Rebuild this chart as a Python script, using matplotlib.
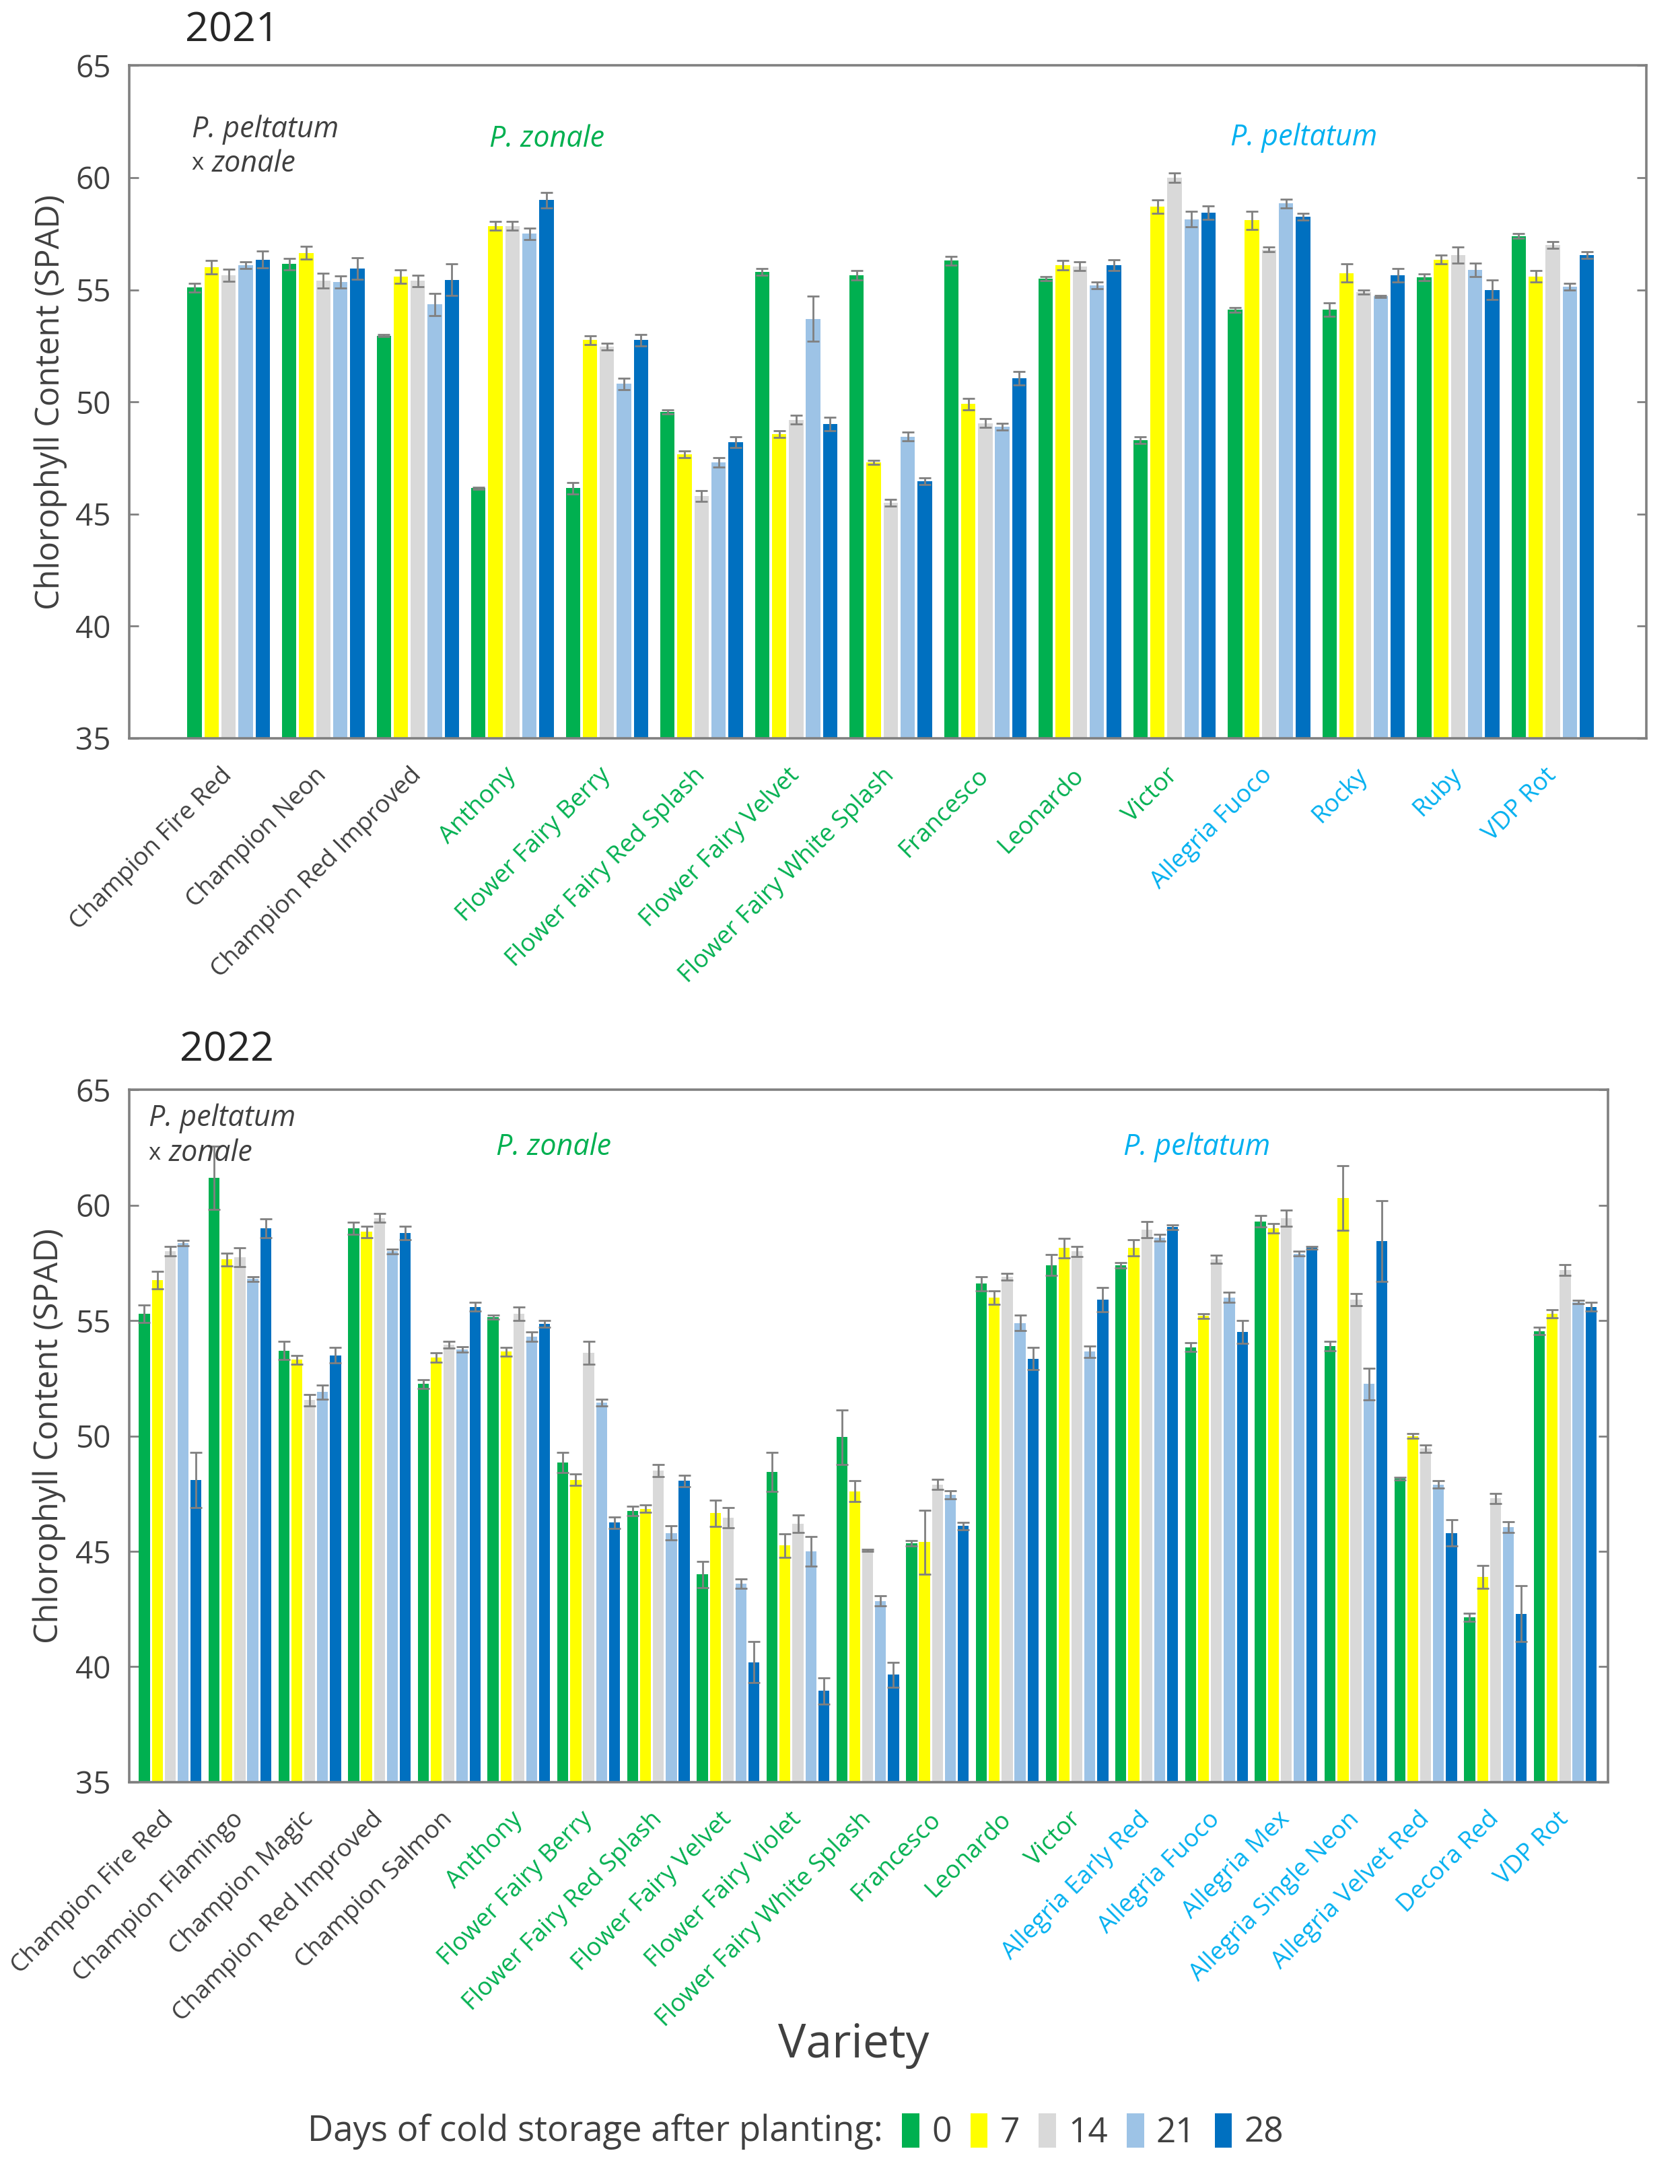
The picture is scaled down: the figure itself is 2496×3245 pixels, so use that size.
"""Chlorophyll content (SPAD) per pelargonium variety after cold storage, 2021 and 2022."""

import matplotlib
matplotlib.use("Agg")
import matplotlib.pyplot as plt
import numpy as np
from matplotlib.patches import Patch

plt.rcParams["font.family"] = ["Open Sans", "DejaVu Sans"]

DAYS = ["0", "7", "14", "21", "28"]
DAY_COLORS = ["#00B050", "#FFFF00", "#D9D9D9", "#9DC3E6", "#0070C0"]
GROUP_COLORS = {"pz": "#404040", "z": "#00B050", "p": "#00B0F0"}

# ---- 2021 ----
VARIETIES_2021 = [
    "Champion Fire Red", "Champion Neon", "Champion Red Improved",
    "Anthony", "Flower Fairy Berry", "Flower Fairy Red Splash", "Flower Fairy Velvet",
    "Flower Fairy White Splash", "Francesco", "Leonardo", "Victor",
    "Allegria Fuoco", "Rocky", "Ruby", "VDP Rot",
]
GROUPS_2021 = ["pz"] * 3 + ["z"] * 8 + ["p"] * 4
SPAD_2021 = [
    [55.1, 56.0, 55.65, 56.1, 56.35],
    [56.15, 56.65, 55.4, 55.35, 55.95],
    [52.95, 55.6, 55.4, 54.35, 55.45],
    [46.15, 57.85, 57.85, 57.5, 59.0],
    [46.15, 52.75, 52.45, 50.8, 52.75],
    [49.55, 47.65, 45.8, 47.3, 48.2],
    [55.8, 48.55, 49.2, 53.7, 49.0],
    [55.65, 47.3, 45.5, 48.45, 46.45],
    [56.3, 49.9, 49.05, 48.9, 51.05],
    [55.5, 56.1, 56.05, 55.2, 56.1],
    [48.3, 58.7, 60.0, 58.15, 58.45],
    [54.1, 58.1, 56.8, 58.85, 58.25],
    [54.1, 55.75, 54.9, 54.7, 55.65],
    [55.55, 56.35, 56.55, 55.9, 55.0],
    [57.4, 55.6, 57.0, 55.15, 56.55],
]
ERR_2021 = [
    [0.2, 0.3, 0.27, 0.15, 0.38],
    [0.25, 0.28, 0.33, 0.28, 0.48],
    [0.05, 0.3, 0.25, 0.5, 0.7],
    [0.05, 0.2, 0.2, 0.25, 0.35],
    [0.25, 0.2, 0.15, 0.25, 0.25],
    [0.1, 0.15, 0.25, 0.2, 0.25],
    [0.15, 0.15, 0.2, 1.0, 0.3],
    [0.2, 0.1, 0.15, 0.2, 0.15],
    [0.2, 0.25, 0.2, 0.15, 0.3],
    [0.1, 0.2, 0.2, 0.15, 0.25],
    [0.15, 0.3, 0.2, 0.35, 0.3],
    [0.1, 0.4, 0.1, 0.2, 0.15],
    [0.3, 0.4, 0.1, 0.05, 0.3],
    [0.15, 0.2, 0.35, 0.3, 0.45],
    [0.1, 0.25, 0.15, 0.15, 0.15],
]

# ---- 2022 ----
VARIETIES_2022 = [
    "Champion Fire Red", "Champion Flamingo", "Champion Magic", "Champion Red Improved",
    "Champion Salmon", "Anthony", "Flower Fairy Berry", "Flower Fairy Red Splash",
    "Flower Fairy Velvet", "Flower Fairy Violet", "Flower Fairy White Splash", "Francesco",
    "Leonardo", "Victor", "Allegria Early Red", "Allegria Fuoco", "Allegria Mex",
    "Allegria Single Neon", "Allegria Velvet Red", "Decora Red", "VDP Rot",
]
GROUPS_2022 = ["pz"] * 5 + ["z"] * 9 + ["p"] * 7
SPAD_2022 = [
    [55.3, 56.75, 58.0, 58.35, 48.1],
    [61.2, 57.65, 57.75, 56.8, 59.0],
    [53.7, 53.3, 51.55, 51.9, 53.5],
    [59.0, 58.85, 59.45, 58.0, 58.8],
    [52.25, 53.4, 53.95, 53.75, 55.6],
    [55.15, 53.65, 55.3, 54.3, 54.85],
    [48.85, 48.1, 53.6, 51.45, 46.25],
    [46.75, 46.85, 48.5, 45.8, 48.05],
    [44.0, 46.65, 46.45, 43.6, 40.2],
    [48.45, 45.25, 46.2, 45.0, 38.95],
    [49.95, 47.6, 45.05, 42.85, 39.65],
    [45.35, 45.4, 47.9, 47.45, 46.1],
    [56.6, 56.0, 56.9, 54.9, 53.35],
    [57.4, 58.15, 58.0, 53.65, 55.9],
    [57.4, 58.15, 58.95, 58.6, 59.05],
    [53.85, 55.2, 57.65, 56.0, 54.5],
    [59.3, 59.0, 59.45, 57.9, 58.15],
    [53.9, 60.3, 55.9, 52.25, 58.45],
    [48.15, 50.0, 49.45, 47.9, 45.8],
    [42.15, 43.9, 47.3, 46.05, 42.3],
    [54.55, 55.3, 57.2, 55.8, 55.6],
]
ERR_2022 = [
    [0.37, 0.38, 0.2, 0.12, 1.2],
    [1.37, 0.27, 0.4, 0.1, 0.42],
    [0.4, 0.2, 0.25, 0.3, 0.33],
    [0.25, 0.25, 0.2, 0.1, 0.3],
    [0.2, 0.2, 0.15, 0.12, 0.2],
    [0.1, 0.2, 0.3, 0.2, 0.15],
    [0.45, 0.25, 0.5, 0.15, 0.25],
    [0.2, 0.15, 0.25, 0.3, 0.25],
    [0.56, 0.56, 0.44, 0.2, 0.88],
    [0.85, 0.5, 0.38, 0.63, 0.57],
    [1.18, 0.45, 0.05, 0.22, 0.54],
    [0.12, 1.38, 0.22, 0.17, 0.16],
    [0.3, 0.3, 0.15, 0.33, 0.48],
    [0.45, 0.42, 0.22, 0.25, 0.52],
    [0.12, 0.35, 0.35, 0.15, 0.1],
    [0.18, 0.1, 0.18, 0.22, 0.5],
    [0.25, 0.2, 0.35, 0.1, 0.05],
    [0.2, 1.4, 0.26, 0.69, 1.74],
    [0.05, 0.1, 0.15, 0.17, 0.58],
    [0.17, 0.5, 0.22, 0.22, 1.2],
    [0.15, 0.18, 0.23, 0.07, 0.2],
]

TEXT_DARK = "#404040"
SPINE = "#808080"
ERR_COLOR = "#808080"


def draw_panel(ax, varieties, groups, spad, err, pitch, width, xlim):
    vals = np.array(spad)
    errs = np.array(err)
    x = np.arange(len(varieties))
    for j in range(len(DAYS)):
        ax.bar(x + (j - 2) * pitch, vals[:, j], width, color=DAY_COLORS[j],
               yerr=errs[:, j], capsize=3.2,
               error_kw=dict(ecolor=ERR_COLOR, elinewidth=1.0, capthick=1.0), zorder=2)
    ax.set_xlim(*xlim)
    ax.set_ylim(35, 65)
    ax.set_yticks(np.arange(35, 66, 5))
    ax.set_xticks(x)
    ax.set_xticklabels(varieties, rotation=45, ha="right", va="center",
                       rotation_mode="anchor", fontsize=13.2)
    for lab, g in zip(ax.get_xticklabels(), groups):
        lab.set_color(GROUP_COLORS[g])
    ax.tick_params(axis="x", length=0, pad=18)
    ax.tick_params(axis="y", direction="in", right=True, length=5, width=1.0, pad=10,
                   color=SPINE, labelsize=16.5, labelcolor=TEXT_DARK)
    for s in ax.spines.values():
        s.set_color(SPINE)
        s.set_linewidth(1.3)
    ax.set_ylabel("Chlorophyll Content (SPAD)", fontsize=17.5, color=TEXT_DARK)


def species_notes(ax, hyb_x, hyb_y, zon_xy, pel_xy):
    kw = dict(transform=ax.transAxes, fontsize=15.5, va="center")
    ax.text(hyb_x, hyb_y, "P. peltatum", style="italic", color=TEXT_DARK, ha="left", **kw)
    ax.text(hyb_x, hyb_y - 0.051, "x", color=TEXT_DARK, ha="left",
            transform=ax.transAxes, fontsize=12.5, va="center")
    ax.text(hyb_x + 0.0135, hyb_y - 0.051, "zonale", style="italic", color=TEXT_DARK,
            ha="left", **kw)
    ax.text(*zon_xy, "P. zonale", style="italic", color=GROUP_COLORS["z"], ha="center", **kw)
    ax.text(*pel_xy, "P. peltatum", style="italic", color=GROUP_COLORS["p"], ha="center", **kw)


fig = plt.figure(figsize=(12.48, 16.225), dpi=200)

ax1 = fig.add_axes([0.077, 0.662, 0.903, 0.308])
draw_panel(ax1, VARIETIES_2021, GROUPS_2021, SPAD_2021, ERR_2021,
           pitch=0.18, width=0.152, xlim=(-1.05, 14.99))
ax1.yaxis.set_label_coords(-0.041, 0.5)
species_notes(ax1, 0.041, 0.905, (0.275, 0.891), (0.774, 0.893))

ax2 = fig.add_axes([0.077, 0.184, 0.880, 0.317])
draw_panel(ax2, VARIETIES_2022, GROUPS_2022, SPAD_2022, ERR_2022,
           pitch=0.185, width=0.157, xlim=(-0.585, 20.61))
ax2.yaxis.set_label_coords(-0.043, 0.5)
species_notes(ax2, 0.013, 0.959, (0.287, 0.917), (0.722, 0.917))

fig.text(0.11, 0.986, "2021", fontsize=22, color="#262626", ha="left", va="center")
fig.text(0.107, 0.519, "2022", fontsize=22, color="#262626", ha="left", va="center")
fig.text(0.508, 0.0635, "Variety", fontsize=25, color=TEXT_DARK, ha="center", va="center")

fig.text(0.183, 0.024, "Days of cold storage after planting:", fontsize=19,
         color=TEXT_DARK, ha="left", va="center")
handles = [Patch(facecolor=c, edgecolor="none") for c in DAY_COLORS]
leg = fig.legend(handles, DAYS, loc="center left", bbox_to_anchor=(0.537, 0.024),
                 ncol=5, frameon=False, fontsize=18.5, handlelength=0.5,
                 handleheight=1.15, handletextpad=0.35, columnspacing=0.55,
                 borderpad=0, borderaxespad=0)
for t in leg.get_texts():
    t.set_color(TEXT_DARK)

fig.savefig("out.png", dpi=200)
